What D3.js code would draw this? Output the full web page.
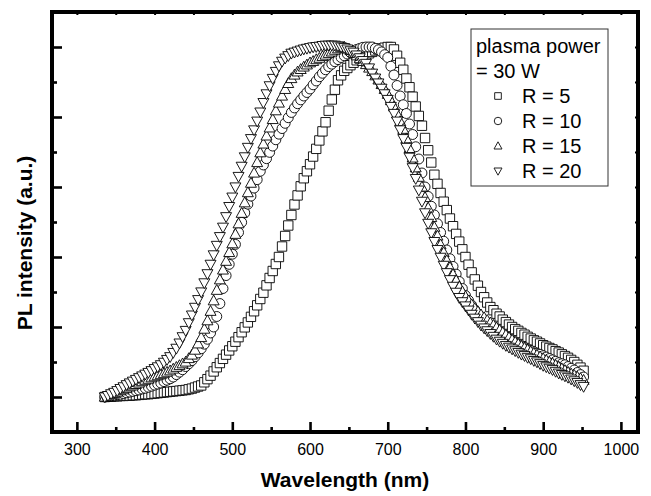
<!DOCTYPE html>
<html>
<head>
<meta charset="utf-8">
<script src="https://cdn.jsdelivr.net/npm/d3@7"></script>
<style>
  html, body { margin: 0; padding: 0; background: #fff; }
  svg { display: block; }
  text { font-family: "Liberation Sans", Arial, sans-serif; fill: #000; }
</style>
</head>
<body>
<svg id="chart" width="651" height="496"></svg>
<script>
// Emission wavelength grid (nm), shared by all spectra
const wavelength = [
  336,340,344,348,352,356,360,364,368,372,
  376,380,384,388,392,396,400,404,408,412,
  416,420,424,428,432,436,440,444,448,452,
  456,460,464,468,472,476,480,484,488,492,
  496,500,504,508,512,516,520,524,528,532,
  536,540,544,548,552,556,560,564,568,572,
  576,580,584,588,592,596,600,604,608,612,
  616,620,624,628,632,636,640,644,648,652,
  656,660,664,668,672,676,680,684,688,692,
  696,700,704,708,712,716,720,724,728,732,
  736,740,744,748,752,756,760,764,768,772,
  776,780,784,788,792,796,800,804,808,812,
  816,820,824,828,832,836,840,844,848,852,
  856,860,864,868,872,876,880,884,888,892,
  896,900,904,908,912,916,920,924,928,932,
  936,940,944,948,952
];

// Normalised PL intensity, R = 5
const intensityR5 = [
  0.000,0.001,0.001,0.002,0.002,0.003,0.003,0.004,0.004,0.005,
  0.005,0.006,0.007,0.008,0.008,0.009,0.010,0.011,0.012,0.013,
  0.014,0.015,0.016,0.017,0.018,0.019,0.020,0.022,0.024,0.027,
  0.030,0.033,0.042,0.051,0.061,0.073,0.085,0.097,0.109,0.121,
  0.133,0.145,0.158,0.171,0.185,0.199,0.213,0.229,0.245,0.262,
  0.280,0.298,0.319,0.340,0.360,0.380,0.400,0.430,0.460,0.490,
  0.520,0.550,0.576,0.602,0.625,0.645,0.665,0.687,0.709,0.733,
  0.759,0.785,0.818,0.850,0.878,0.905,0.919,0.932,0.940,0.948,
  0.955,0.962,0.967,0.972,0.977,0.982,0.986,0.990,0.993,0.996,
  0.998,1.000,1.000,0.993,0.975,0.955,0.935,0.910,0.885,0.858,
  0.830,0.803,0.775,0.740,0.705,0.670,0.635,0.609,0.583,0.558,
  0.534,0.510,0.488,0.466,0.444,0.422,0.400,0.378,0.356,0.336,
  0.318,0.300,0.285,0.270,0.257,0.248,0.238,0.230,0.221,0.214,
  0.207,0.200,0.194,0.189,0.183,0.178,0.172,0.167,0.162,0.158,
  0.153,0.148,0.144,0.140,0.136,0.131,0.127,0.122,0.117,0.112,
  0.106,0.100,0.092,0.084,0.075
];

// Normalised PL intensity, R = 10
const intensityR10 = [
  0.000,0.002,0.003,0.005,0.007,0.008,0.010,0.012,0.014,0.016,
  0.018,0.020,0.023,0.025,0.028,0.031,0.034,0.037,0.040,0.044,
  0.048,0.052,0.057,0.064,0.071,0.078,0.087,0.095,0.104,0.115,
  0.126,0.138,0.151,0.165,0.183,0.200,0.230,0.267,0.310,0.347,
  0.379,0.408,0.436,0.470,0.499,0.526,0.551,0.574,0.597,0.621,
  0.645,0.663,0.681,0.699,0.717,0.735,0.751,0.767,0.782,0.798,
  0.813,0.826,0.838,0.849,0.860,0.870,0.880,0.892,0.903,0.915,
  0.925,0.935,0.944,0.951,0.958,0.964,0.970,0.975,0.980,0.984,
  0.989,0.993,0.996,0.999,1.000,1.000,1.000,0.996,0.992,0.986,
  0.978,0.970,0.945,0.920,0.890,0.860,0.835,0.810,0.780,0.750,
  0.715,0.680,0.640,0.600,0.573,0.545,0.520,0.495,0.470,0.445,
  0.420,0.395,0.373,0.351,0.330,0.310,0.290,0.276,0.262,0.249,
  0.237,0.225,0.217,0.209,0.202,0.196,0.190,0.184,0.178,0.172,
  0.166,0.160,0.155,0.150,0.146,0.141,0.137,0.133,0.129,0.125,
  0.122,0.118,0.114,0.110,0.106,0.102,0.098,0.095,0.092,0.087,
  0.082,0.077,0.070,0.064,0.057
];

// Normalised PL intensity, R = 15
const intensityR15 = [
  0.000,0.003,0.007,0.010,0.014,0.018,0.021,0.025,0.029,0.032,
  0.036,0.040,0.044,0.048,0.051,0.055,0.058,0.061,0.064,0.067,
  0.071,0.075,0.080,0.085,0.090,0.095,0.100,0.110,0.120,0.134,
  0.152,0.170,0.194,0.218,0.245,0.275,0.305,0.335,0.363,0.388,
  0.413,0.438,0.465,0.495,0.525,0.555,0.584,0.611,0.640,0.670,
  0.698,0.723,0.746,0.769,0.793,0.818,0.840,0.860,0.879,0.896,
  0.910,0.920,0.929,0.936,0.943,0.949,0.955,0.959,0.964,0.968,
  0.973,0.977,0.982,0.986,0.991,0.995,0.998,1.000,0.995,0.990,
  0.983,0.975,0.967,0.959,0.950,0.940,0.930,0.918,0.906,0.893,
  0.879,0.865,0.847,0.829,0.809,0.787,0.765,0.738,0.710,0.683,
  0.655,0.628,0.600,0.570,0.540,0.513,0.485,0.460,0.435,0.413,
  0.390,0.370,0.350,0.333,0.315,0.301,0.287,0.275,0.264,0.253,
  0.244,0.235,0.227,0.219,0.212,0.205,0.198,0.191,0.184,0.177,
  0.170,0.163,0.157,0.151,0.145,0.140,0.135,0.130,0.125,0.120,
  0.115,0.110,0.105,0.100,0.096,0.091,0.086,0.081,0.076,0.071,
  0.066,0.062,0.057,0.053,0.048
];

// Normalised PL intensity, R = 20
const intensityR20 = [
  0.000,0.004,0.009,0.013,0.018,0.024,0.029,0.035,0.040,0.045,
  0.050,0.055,0.060,0.065,0.070,0.075,0.081,0.086,0.092,0.099,
  0.107,0.115,0.127,0.139,0.154,0.172,0.190,0.212,0.234,0.256,
  0.278,0.300,0.326,0.352,0.379,0.406,0.433,0.458,0.485,0.515,
  0.544,0.571,0.600,0.630,0.659,0.686,0.713,0.738,0.763,0.788,
  0.814,0.841,0.866,0.889,0.910,0.930,0.946,0.959,0.968,0.975,
  0.982,0.985,0.988,0.991,0.994,0.996,0.998,1.000,1.001,1.002,
  1.004,1.005,1.005,1.005,1.005,1.003,1.000,0.998,0.994,0.989,
  0.985,0.977,0.969,0.961,0.953,0.940,0.925,0.911,0.897,0.882,
  0.866,0.850,0.830,0.810,0.788,0.763,0.738,0.713,0.685,0.655,
  0.624,0.591,0.559,0.526,0.496,0.469,0.444,0.421,0.399,0.376,
  0.355,0.335,0.316,0.299,0.284,0.272,0.260,0.248,0.236,0.225,
  0.215,0.205,0.197,0.189,0.181,0.173,0.165,0.159,0.153,0.147,
  0.142,0.137,0.132,0.127,0.122,0.118,0.113,0.109,0.104,0.100,
  0.095,0.090,0.086,0.082,0.078,0.073,0.068,0.064,0.060,0.056,
  0.051,0.046,0.041,0.035,0.030
];

const seriesLabels = ["R = 5", "R = 10", "R = 15", "R = 20"];
const seriesValues = [intensityR5, intensityR10, intensityR15, intensityR20];
const legendTitle = ["plasma power", "= 30 W"];

const xMajorTicks = [300, 400, 500, 600, 700, 800, 900, 1000];
const xMinorTicks = [350, 450, 550, 650, 750, 850, 950];
const yMajorTicks = [0, 0.2, 0.4, 0.6, 0.8, 1.0];
const yMinorTicks = [0.1, 0.3, 0.5, 0.7, 0.9];

const xTitle = "Wavelength (nm)";
const yTitle = "PL intensity (a.u.)";

// ---- layout ----
const plot = { left: 52, top: 12, right: 638, bottom: 432 };
const svg = d3.select("#chart");

const x = d3.scaleLinear().domain([268, 1022]).range([plot.left, plot.right]);
const y = d3.scaleLinear().domain([-0.1, 1.1]).range([plot.bottom, plot.top]);

// ---- marker shapes ----
const triangleUp = {
  draw(ctx, size) {
    const h = Math.sqrt(size) / 2;
    ctx.moveTo(0, -h * 1.05);
    ctx.lineTo(h, h * 0.75);
    ctx.lineTo(-h, h * 0.75);
    ctx.closePath();
  }
};
const triangleDown = {
  draw(ctx, size) {
    const h = Math.sqrt(size) / 2;
    ctx.moveTo(0, h * 1.05);
    ctx.lineTo(h, -h * 0.75);
    ctx.lineTo(-h, -h * 0.75);
    ctx.closePath();
  }
};
const markerTypes = [d3.symbolSquare, d3.symbolCircle, triangleUp, triangleDown];
const markerSizes = [88, 78, 120, 120];
const legendSizes = [44, 44, 64, 64];

// ---- data series ----
const seriesG = svg.append("g");
seriesValues.forEach((vals, i) => {
  const pts = wavelength.map((w, k) => [w, vals[k]]);
  const sym = d3.symbol().type(markerTypes[i]).size(markerSizes[i]);
  seriesG.append("g")
    .selectAll("path")
    .data(pts)
    .join("path")
    .attr("transform", d => `translate(${x(d[0])},${y(d[1])})`)
    .attr("d", sym)
    .attr("fill", "#fff")
    .attr("stroke", "#000")
    .attr("stroke-width", 0.9);
});

// ---- axes ----
function styleTicks(g, width) {
  g.select(".domain").remove();
  g.selectAll(".tick line").attr("stroke", "#000").attr("stroke-width", width);
}

svg.append("g")
  .attr("transform", `translate(0,${plot.bottom})`)
  .call(d3.axisBottom(x).tickValues(xMajorTicks).tickSizeInner(-10).tickSizeOuter(0)
        .tickPadding(12).tickFormat(d3.format("d")))
  .call(g => styleTicks(g, 2.6))
  .call(g => g.selectAll(".tick text")
        .attr("font-size", 16).attr("font-family", "Liberation Sans, Arial, sans-serif")
        .attr("fill", "#000"));

svg.append("g")
  .attr("transform", `translate(0,${plot.bottom})`)
  .call(d3.axisBottom(x).tickValues(xMinorTicks).tickSizeInner(-5).tickSizeOuter(0).tickFormat(""))
  .call(g => styleTicks(g, 2.6));

svg.append("g")
  .attr("transform", `translate(${plot.left},0)`)
  .call(d3.axisLeft(y).tickValues(yMajorTicks).tickSizeInner(-10).tickSizeOuter(0).tickFormat(""))
  .call(g => styleTicks(g, 2.6));

svg.append("g")
  .attr("transform", `translate(${plot.left},0)`)
  .call(d3.axisLeft(y).tickValues(yMinorTicks).tickSizeInner(-5).tickSizeOuter(0).tickFormat(""))
  .call(g => styleTicks(g, 2.6));

svg.append("g")
  .attr("transform", `translate(0,${plot.top})`)
  .call(d3.axisTop(x).tickValues(xMajorTicks.concat(xMinorTicks)).tickSizeInner(-3).tickSizeOuter(0).tickFormat(""))
  .call(g => styleTicks(g, 2));

svg.append("g")
  .attr("transform", `translate(${plot.right},0)`)
  .call(d3.axisRight(y).tickValues(yMajorTicks.concat(yMinorTicks)).tickSizeInner(-3).tickSizeOuter(0).tickFormat(""))
  .call(g => styleTicks(g, 2));

// frame
svg.append("rect")
  .attr("x", plot.left).attr("y", plot.top)
  .attr("width", plot.right - plot.left).attr("height", plot.bottom - plot.top)
  .attr("fill", "none").attr("stroke", "#000").attr("stroke-width", 4);

// axis titles
svg.append("text")
  .attr("x", (plot.left + plot.right) / 2).attr("y", 487)
  .attr("text-anchor", "middle")
  .attr("font-size", 21).attr("font-weight", "bold")
  .text(xTitle);

svg.append("text")
  .attr("transform", "translate(32,243) rotate(-90)")
  .attr("text-anchor", "middle")
  .attr("font-size", 21).attr("font-weight", "bold")
  .text(yTitle);

// ---- legend ----
const legend = svg.append("g");
legend.append("rect")
  .attr("x", 471).attr("y", 29).attr("width", 137).attr("height", 157)
  .attr("fill", "#fff").attr("stroke", "#333").attr("stroke-width", 1);

legendTitle.forEach((t, i) => {
  legend.append("text")
    .attr("x", 476).attr("y", 53 + i * 25)
    .attr("font-size", 20)
    .text(t);
});

seriesLabels.forEach((label, i) => {
  const by = 103 + i * 25;
  legend.append("path")
    .attr("transform", `translate(498,${by - 7})`)
    .attr("d", d3.symbol().type(markerTypes[i]).size(legendSizes[i]))
    .attr("fill", "#fff").attr("stroke", "#222").attr("stroke-width", 1);
  legend.append("text")
    .attr("x", 522).attr("y", by)
    .attr("font-size", 20)
    .text(label);
});
</script>
</body>
</html>
